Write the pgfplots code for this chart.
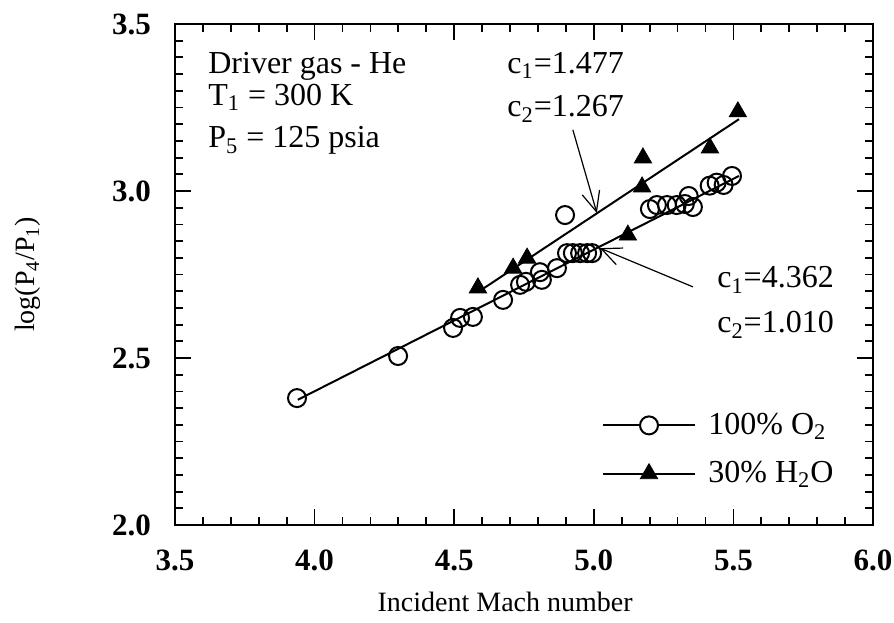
\documentclass[border=0pt]{standalone}
\usepackage{pgfplots}
\pgfplotsset{compat=1.18}
\usepackage{fontspec}
\setmainfont{Liberation Serif}
\usetikzlibrary{arrows.meta}

\begin{document}
\begin{tikzpicture}[font=\fontsize{16}{19}\selectfont]
\useasboundingbox (-87.5pt,-48.5pt) rectangle (359.5pt,262.5pt);
\begin{axis}[
  at={(0pt,0pt)}, anchor=south west,
  width=349pt, height=250.5pt, scale only axis,
  xmin=3.5, xmax=6.0, ymin=2.0, ymax=3.5,
  xtick={3.5,4,4.5,5,5.5,6}, xticklabels={3.5,4.0,4.5,5.0,5.5,6.0},
  ytick={2,2.5,3,3.5}, yticklabels={2.0,2.5,3.0,3.5},
  minor x tick num=4, minor y tick num=9,
  tick align=inside, tick pos=both,
  major tick length=8pt, minor tick length=4pt,
  every tick/.style={black, line width=0.9pt},
  axis line style={line width=1pt},
  ticklabel style={font=\fontsize{15.5}{18}\selectfont\bfseries},
  xticklabel style={yshift=-9pt},
  yticklabel style={xshift=-8.5pt},
  xlabel={Incident Mach number},
  ylabel={log(P\textsubscript{4}/P\textsubscript{1})},
  label style={font=\fontsize{14}{17}\selectfont},
  xlabel style={at={(axis description cs:0.473,-0.172)}, anchor=base},
  ylabel style={at={(axis description cs:-0.2106,0.5)}, anchor=center},
  legend style={draw=none, fill=none, at={(axis cs:5.028,2.226)}, anchor=west,
    inner sep=0pt, row sep=9pt, legend cell align=left,
    nodes={inner sep=1.5pt}},
]
% 100% O2
\addplot[only marks, mark=o, mark size=4.5pt, mark options={line width=1pt},
  legend image code/.code={
    \draw[line width=1pt] (0pt,0pt) -- (46pt,0pt);
    \draw[line width=1pt, fill=white] (23pt,0pt) circle (4.5pt);
    \path (51pt,0pt);}] coordinates {
  (3.937,2.380) (4.299,2.506) (4.496,2.590) (4.521,2.620) (4.567,2.623)
  (4.675,2.674) (4.736,2.719) (4.757,2.728) (4.807,2.757) (4.814,2.734)
  (4.868,2.769) (4.897,2.928) (4.904,2.814) (4.925,2.814) (4.951,2.814)
  (4.976,2.814) (4.994,2.814) (5.201,2.946) (5.226,2.958) (5.262,2.958)
  (5.297,2.958) (5.326,2.961) (5.340,2.985) (5.355,2.952) (5.415,3.016)
  (5.440,3.025) (5.465,3.018) (5.495,3.045)
};
\addlegendentry{100\% O\textsubscript{2}}
% 30% H2O
\addplot[only marks, mark=triangle*, mark size=5pt,
  legend image code/.code={
    \draw[line width=1pt] (0pt,0pt) -- (46pt,0pt);
    \draw[mark size=5pt] plot[mark=triangle*] coordinates {(23pt,0pt)};
    \path (51pt,0pt);}] coordinates {
  (4.585,2.710) (4.711,2.769) (4.761,2.799) (5.122,2.868)
  (5.173,3.012) (5.176,3.099) (5.416,3.129) (5.516,3.237)
};
\addlegendentry{30\% H\textsubscript{2}O}
% fit lines
\addplot[line width=1pt, forget plot] coordinates {(3.94,2.375) (5.52,3.045)};
\addplot[line width=1pt, forget plot] coordinates {(4.59,2.700) (5.52,3.215)};

\draw[-{Straight Barb[length=10pt,width=9pt]}, line width=0.6pt]
  (axis cs:4.925,3.183) -- (axis cs:5.011,2.934);
\draw[-{Straight Barb[length=10pt,width=9pt]}, line width=0.6pt]
  (axis cs:5.355,2.713) -- (axis cs:5.022,2.829);

\node[anchor=base west, inner sep=0pt] at (axis cs:3.618,3.353) {Driver gas - He};
\node[anchor=base west, inner sep=0pt] at (axis cs:3.618,3.257) {T\textsubscript{1} = 300 K};
\node[anchor=base west, inner sep=0pt] at (axis cs:3.618,3.129) {P\textsubscript{5} = 125 psia};
\node[anchor=base west, inner sep=0pt] at (axis cs:4.689,3.353) {c\textsubscript{1}=1.477};
\node[anchor=base west, inner sep=0pt] at (axis cs:4.689,3.222) {c\textsubscript{2}=1.267};
\node[anchor=base west, inner sep=0pt] at (axis cs:5.441,2.710) {c\textsubscript{1}=4.362};
\node[anchor=base west, inner sep=0pt] at (axis cs:5.441,2.575) {c\textsubscript{2}=1.010};
\end{axis}
\end{tikzpicture}
\end{document}
